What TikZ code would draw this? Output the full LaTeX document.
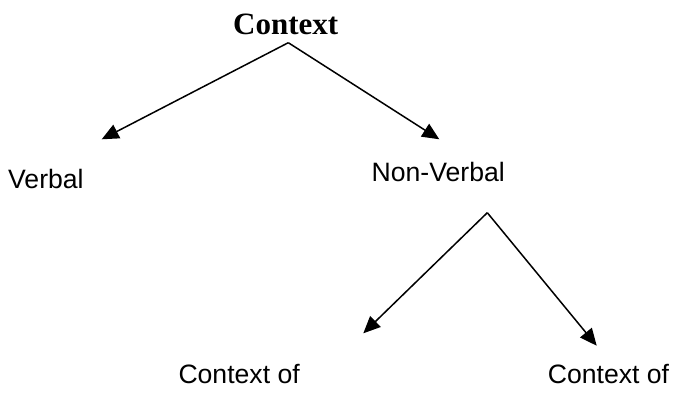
\documentclass[tikz,border=0pt]{standalone}
\usepackage{fontspec}
\setmainfont{Liberation Serif}
\newfontfamily\arialish{Liberation Sans}
\usetikzlibrary{arrows.meta}
\tikzset{
  lbl/.style={inner sep=0pt, anchor=base west, font=\arialish\fontsize{26.6bp}{32bp}\selectfont},
  ttl/.style={inner sep=0pt, anchor=base west, font=\bfseries\fontsize{31bp}{36bp}\selectfont},
  arr/.style={line width=1.5bp, -{Triangle[length=17bp,width=15bp]}}
}
\begin{document}
\begin{tikzpicture}[x=1bp,y=-1bp]
  \useasboundingbox (0,0) rectangle (673,406);
  \node[ttl] (ctx) at (233,34) {Context};
  \node[lbl] (verbal) at (8,188) {Verbal};
  \node[lbl] (nonverbal) at (371.5,181) {Non-Verbal};
  \node[lbl] (ctxa) at (178.3,383.3) {Context of};
  \node[lbl] (ctxb) at (547.7,383.3) {Context of};
  \coordinate (apexA) at (288.3,42.7);
  \coordinate (tipV) at (101.7,139.3);
  \coordinate (tipN) at (439.3,139.3);
  \coordinate (apexB) at (487.3,212.7);
  \coordinate (tipA) at (363.3,333.3);
  \coordinate (tipB) at (596.7,345.7);
  \draw[arr] (apexA) -- (tipV);
  \draw[arr] (apexA) -- (tipN);
  \draw[arr] (apexB) -- (tipA);
  \draw[arr] (apexB) -- (tipB);
\end{tikzpicture}
\end{document}
